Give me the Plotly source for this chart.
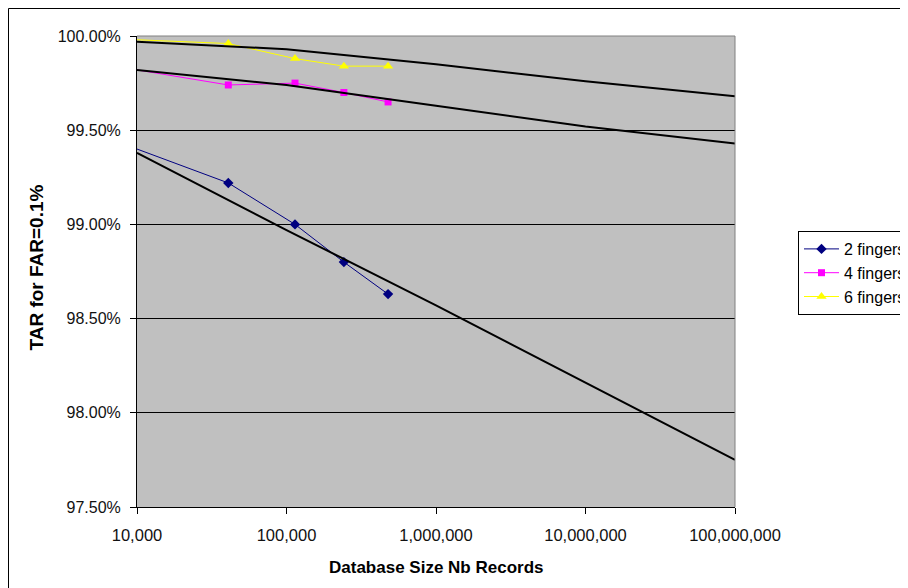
import plotly.graph_objects as go

# ---- data ----
db_size = [10000, 40800, 114000, 242000, 478000]
tar_2_fingers = [99.40, 99.22, 99.00, 98.80, 98.63]
tar_4_fingers = [99.82, 99.74, 99.75, 99.70, 99.65]
tar_6_fingers = [99.98, 99.96, 99.88, 99.84, 99.84]

trend_size = [10000, 100000, 1000000, 10000000, 100000000]
trend_2_fingers = [99.38, 98.97, 98.57, 98.16, 97.75]
trend_4_fingers = [99.82, 99.74, 99.63, 99.52, 99.43]
trend_6_fingers = [99.97, 99.93, 99.85, 99.76, 99.68]

x_tick_vals = [10000, 100000, 1000000, 10000000, 100000000]
x_tick_text = ["10,000", "100,000", "1,000,000", "10,000,000", "100,000,000"]
y_tick_vals = [97.5, 98.0, 98.5, 99.0, 99.5, 100.0]
y_tick_text = ["97.50%", "98.00%", "98.50%", "99.00%", "99.50%", "100.00%"]

FONT = "Liberation Sans, Arial, sans-serif"

fig = go.Figure()

series = [
    ("2 fingers", tar_2_fingers, "#000080", "diamond", 8),
    ("4 fingers", tar_4_fingers, "#FF00FF", "square", 7),
    ("6 fingers", tar_6_fingers, "#FFFF00", "triangle-up", 9),
]
for name, ys, col, sym, sz in series:
    fig.add_trace(go.Scatter(
        x=db_size[1:], y=ys[1:], name=name, mode="lines+markers",
        line=dict(color=col, width=1),
        marker=dict(symbol=sym, size=sz, color=col),
        showlegend=True,
    ))
    # line segment from the axis start to the first measured point
    fig.add_trace(go.Scatter(
        x=db_size[:2], y=ys[:2], mode="lines",
        line=dict(color=col, width=1), showlegend=False, hoverinfo="skip",
    ))

for ys in (trend_2_fingers, trend_4_fingers, trend_6_fingers):
    fig.add_trace(go.Scatter(
        x=trend_size, y=ys, mode="lines",
        line=dict(color="black", width=2), showlegend=False, hoverinfo="skip",
    ))

# the page has an 8px body margin, so the figure starts at page (8, 8)
OFF = 8
W, H = 900, 580
L = 137 - OFF
T = 36 - OFF
R = W - (735 - OFF)
B = H - (507 - OFF)
pw, ph = W - L - R, H - T - B

def px_x(p):  # page pixel -> paper
    return (p - OFF - L) / pw

def px_y(p):
    return (H - B - (p - OFF)) / ph

fig.update_layout(
    width=W, height=H,
    margin=dict(l=L, r=R, t=T, b=B, autoexpand=False),
    paper_bgcolor="white",
    plot_bgcolor="#C0C0C0",
    font=dict(family=FONT, size=16, color="black"),
    xaxis=dict(
        type="log", range=[4, 8],
        tickvals=x_tick_vals, ticktext=x_tick_text,
        ticks="outside", ticklen=6, tickcolor="black", tickwidth=1,
        showline=True, linecolor="black", linewidth=1,
        showgrid=False, zeroline=False,
        ticklabelstandoff=7,
        tickfont=dict(family=FONT, size=16.5, color="#111"),
    ),
    yaxis=dict(
        range=[97.5, 100.0],
        tickvals=y_tick_vals, ticktext=y_tick_text,
        ticks="outside", ticklen=6, tickcolor="black", tickwidth=1,
        showline=True, linecolor="black", linewidth=1,
        showgrid=True, gridcolor="black", gridwidth=1,
        zeroline=False,
        ticklabelstandoff=6,
        tickfont=dict(family=FONT, size=16, color="#111"),
    ),
    legend=dict(
        x=px_x(798), y=px_y(231), xanchor="left", yanchor="top",
        bgcolor="white", bordercolor="black", borderwidth=1,
        font=dict(family=FONT, size=16, color="black"),
        itemwidth=35, tracegroupgap=0,
    ),
    showlegend=True,
)

# top / right grey plot border
fig.add_shape(type="line", xref="paper", yref="paper", x0=0, x1=1, y0=1, y1=1,
              line=dict(color="#808080", width=1), layer="above")
fig.add_shape(type="line", xref="paper", yref="paper", x0=1, x1=1, y0=0, y1=1,
              line=dict(color="#808080", width=1), layer="above")
# outer chart border (left and top edges of the chart frame)
fig.add_shape(type="rect", xref="paper", yref="paper",
              x0=px_x(8.5), x1=px_x(940), y0=px_y(8.5), y1=px_y(640),
              line=dict(color="black", width=1), layer="below")

# axis titles
fig.add_annotation(text="<b>Database Size Nb Records</b>", xref="paper", yref="paper",
                   x=px_x(436), y=px_y(567), showarrow=False,
                   font=dict(family=FONT, size=17, color="black"),
                   xanchor="center", yanchor="middle")
fig.add_annotation(text="<b>TAR for FAR=0.1%</b>", xref="paper", yref="paper",
                   x=px_x(35.5), y=px_y(268), showarrow=False, textangle=-90,
                   font=dict(family=FONT, size=19, color="black"),
                   xanchor="center", yanchor="middle")

fig.write_html("out.html")
